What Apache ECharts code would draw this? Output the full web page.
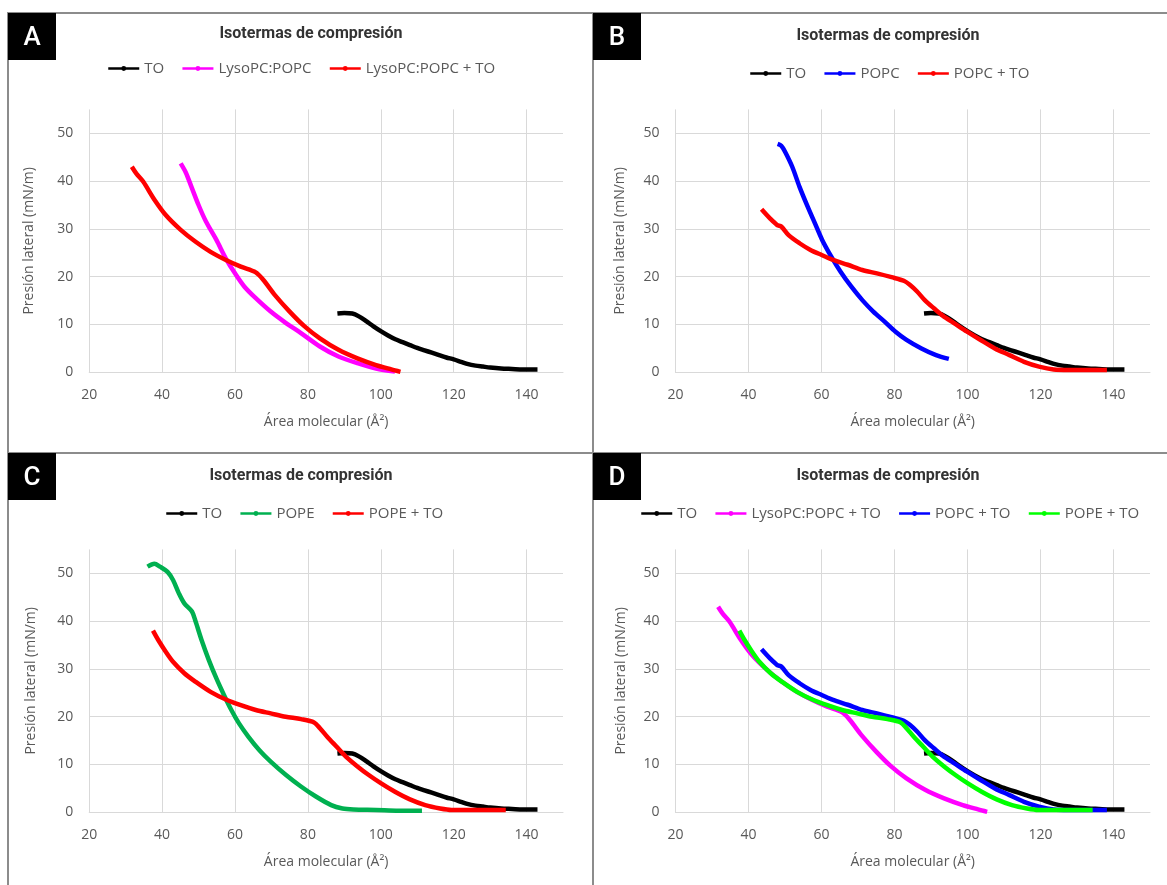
<!DOCTYPE html>
<html>
<head>
<meta charset="utf-8">
<script src="https://cdn.jsdelivr.net/npm/echarts@6/dist/echarts.min.js"></script>
<style>
  body { margin: 0; background: #fff; }
  #page { position: relative; width: 1167px; height: 885px; overflow: hidden; background: #fff; }
  .rule { position: absolute; background: #8c8c8c; }
  .chart { position: absolute; }
</style>
</head>
<body>
<div id="page">
  <!-- marcos de los paneles -->
  <div class="rule" style="left:7px;top:12px;width:1160px;height:2px"></div>
  <div class="rule" style="left:7px;top:452px;width:1160px;height:2px"></div>
  <div class="rule" style="left:7px;top:12px;width:2px;height:873px"></div>
  <div class="rule" style="left:592px;top:12px;width:2px;height:873px"></div>

  <div id="chartA" class="chart" style="left:8px;top:13px;width:585px;height:440px"></div>
  <div id="chartB" class="chart" style="left:593px;top:13px;width:574px;height:440px"></div>
  <div id="chartC" class="chart" style="left:8px;top:453px;width:585px;height:432px"></div>
  <div id="chartD" class="chart" style="left:593px;top:453px;width:574px;height:432px"></div>
</div>

<script>
  // isotermas: [area (A^2), presion (mN/m)]
  var toData = [[88.1,12.3],[90,12.4],[92.2,12.3],[94,11.7],[96,10.7],[98,9.6],[100,8.6],[102,7.7],[104,6.9],[106,6.3],[108,5.7],[110,5.1],[112,4.6],[114,4.1],[116,3.6],[118,3.1],[120,2.7],[122,2.2],[124,1.7],[126,1.4],[128,1.2],[130,1.0],[133,0.8],[136,0.7],[139,0.6],[143,0.6]]

  var lysoData = [[45.1,43.7],[46.5,41.8],[48,38.9],[50,35],[52,31.6],[54.9,27.7],[57.5,23.8],[60,20.7],[62.6,17.9],[65.7,15.5],[69.8,12.7],[74,10.3],[78.1,8.2],[83.3,5.4],[88.4,3.3],[93.6,1.9],[98.7,0.8],[103.9,0.15]]

  var lysoToData = [[31.7,43.0],[33,41.5],[34.8,39.9],[37.9,36.1],[41,32.9],[45.1,29.8],[49.2,27.3],[53.3,25.2],[57.5,23.5],[61.6,22.1],[65.7,20.9],[67.8,19.3],[70.9,16.2],[75,12.7],[79.1,9.6],[83.3,7.1],[88.4,4.7],[93.6,2.9],[98.7,1.5],[102.9,0.6],[105.4,0.1]]

  var popcData = [[48,47.8],[49,47.4],[50,46.2],[52,43],[54,38.8],[56.2,34.7],[58.2,31.2],[60.2,27.7],[62.7,24.2],[65.2,21.1],[68.2,17.9],[71.2,15.1],[74.2,12.7],[77.3,10.6],[80.3,8.5],[83.3,6.8],[87.4,5.0],[91.4,3.6],[94.9,2.8]]

  var popcToData = [[43.6,34.1],[45.9,32.2],[47.9,30.8],[49,30.5],[51,28.7],[54,27],[57,25.6],[60.2,24.5],[63.2,23.5],[67.2,22.5],[71.2,21.4],[75.2,20.7],[79.2,19.9],[82.7,19.1],[84.2,18.3],[86.2,16.9],[88.3,15.1],[90.8,13.4],[93.3,11.8],[96.3,10.3],[99.9,8.5],[103.5,6.8],[107.5,5.0],[111.5,3.6],[115.5,2.2],[119.6,1.2],[123.6,0.6],[127.7,0.5],[132.7,0.5],[138.2,0.5]]

  var popeData = [[36,51.4],[37.9,52],[39.4,51.4],[41.5,50.3],[43,48.6],[44.6,45.8],[46.1,43.7],[48.2,42],[49.2,39.9],[50.8,36.1],[52.8,31.9],[54.9,28],[57,24.5],[59,21.4],[61.1,18.6],[63.7,15.8],[66.7,13],[69.8,10.6],[74,7.8],[78.1,5.4],[82.2,3.3],[86.4,1.5],[89.5,0.8],[92.5,0.6],[98.7,0.5],[104.9,0.35],[111.3,0.35]]

  var popeToData = [[37.5,38],[38.9,36.1],[41,33.6],[43,31.5],[46.1,29.1],[49.2,27.3],[53.3,25.2],[57.5,23.6],[61.6,22.4],[65.7,21.4],[69.8,20.7],[73.9,20],[78.1,19.5],[81.7,18.8],[83.3,17.6],[85.3,15.8],[87.9,13.7],[90.5,11.6],[93.6,9.6],[96.7,7.8],[100,6.1],[103.9,4.3],[108,2.7],[112.2,1.5],[116.3,0.8],[119.4,0.5],[124.5,0.5],[129.7,0.5],[134.3,0.5]]

  var xTicks = { min: 20, max: 150, interval: 20 }
  var yTicks = { min: 0, max: 55, interval: 10 }

  var gridColor = '#d9d9d9'
  var textColor = '#595959'

  function serie(name, data, color) {
    return {
      type: 'line',
      name: name,
      data: data,
      smooth: 0.3,
      symbol: 'circle',
      symbolSize: 4,
      showSymbol: false,
      lineStyle: { width: 4.5, color: color },
      itemStyle: { color: color }
    }
  }

  // p: posiciones del panel (relativas al div)
  function panel(id, letter, p, series) {
    var chart = echarts.init(document.getElementById(id))
    chart.setOption({
      animation: false,
      textStyle: { fontFamily: 'Open Sans' },
      graphic: [
        { type: 'rect', x: 0, y: 0, shape: { width: 48, height: 47 }, style: { fill: '#000' }, z: 10 },
        { type: 'text', x: 24, y: 25, z: 11,
          style: { text: letter, fill: '#fff', font: '500 26px Roboto', align: 'center', verticalAlign: 'middle' } }
      ],
      title: {
        text: 'Isotermas de compresión',
        left: p.titleX,
        top: p.titleY - 9,
        textAlign: 'center',
        padding: 0,
        textStyle: { fontFamily: 'Roboto', fontWeight: 'bold', fontSize: 16, color: '#333' }
      },
      legend: {
        left: p.legendX,
        top: p.legendY - 9,
        padding: 0,
        itemGap: 17,
        itemWidth: 31,
        itemHeight: 6,
        lineStyle: { width: 2.5 },
        textStyle: { fontFamily: 'Open Sans', fontSize: 15, color: textColor },
        data: series.map(function (s) { return s.name })
      },
      grid: { left: p.gridLeft, top: 96.4, width: p.gridWidth, height: 262.9 },
      xAxis: {
        type: 'value',
        min: xTicks.min, max: xTicks.max, interval: xTicks.interval,
        name: 'Área molecular (Å²)',
        nameLocation: 'middle',
        nameGap: 43,
        nameTextStyle: { color: textColor, fontSize: 14, fontFamily: 'Open Sans' },
        axisLine: { show: true, lineStyle: { color: gridColor, width: 1 } },
        axisTick: { show: false },
        axisLabel: { color: textColor, fontSize: 14, margin: 16, showMaxLabel: false },
        splitLine: { show: true, showMaxLine: false, lineStyle: { color: gridColor, width: 1 } }
      },
      yAxis: {
        type: 'value',
        min: yTicks.min, max: yTicks.max, interval: yTicks.interval,
        name: 'Presión lateral (mN/m)',
        nameLocation: 'middle',
        nameRotate: 90,
        nameGap: p.yNameGap,
        nameTextStyle: { color: textColor, fontSize: 14, fontFamily: 'Open Sans' },
        axisLine: { show: false },
        axisTick: { show: false },
        axisLabel: { color: textColor, fontSize: 14, margin: 16, showMaxLabel: false },
        splitLine: { show: true, showMaxLine: false, lineStyle: { color: gridColor, width: 1 } }
      },
      series: series
    })
    return chart
  }

  panel('chartA', 'A',
    { titleX: 303, titleY: 22, legendX: 99, legendY: 57, gridLeft: 81.2, gridWidth: 473.8, yNameGap: 53 },
    [serie('TO', toData, '#000000'),
     serie('LysoPC:POPC', lysoData, '#ff00ff'),
     serie('LysoPC:POPC + TO', lysoToData, '#ff0000')])

  panel('chartB', 'B',
    { titleX: 295, titleY: 24, legendX: 156, legendY: 62, gridLeft: 82.4, gridWidth: 474.6, yNameGap: 48 },
    [serie('TO', toData, '#000000'),
     serie('POPC', popcData, '#0000ff'),
     serie('POPC + TO', popcToData, '#ff0000')])

  panel('chartC', 'C',
    { titleX: 293, titleY: 24, legendX: 157, legendY: 62, gridLeft: 81.2, gridWidth: 473.8, yNameGap: 51 },
    [serie('TO', toData, '#000000'),
     serie('POPE', popeData, '#00b050'),
     serie('POPE + TO', popeToData, '#ff0000')])

  panel('chartD', 'D',
    { titleX: 295, titleY: 24, legendX: 47, legendY: 62, gridLeft: 82.4, gridWidth: 474.6, yNameGap: 47 },
    [serie('TO', toData, '#000000'),
     serie('LysoPC:POPC + TO', lysoToData, '#ff00ff'),
     serie('POPC + TO', popcToData, '#0000ff'),
     serie('POPE + TO', popeToData, '#00ff00')])
</script>
</body>
</html>
